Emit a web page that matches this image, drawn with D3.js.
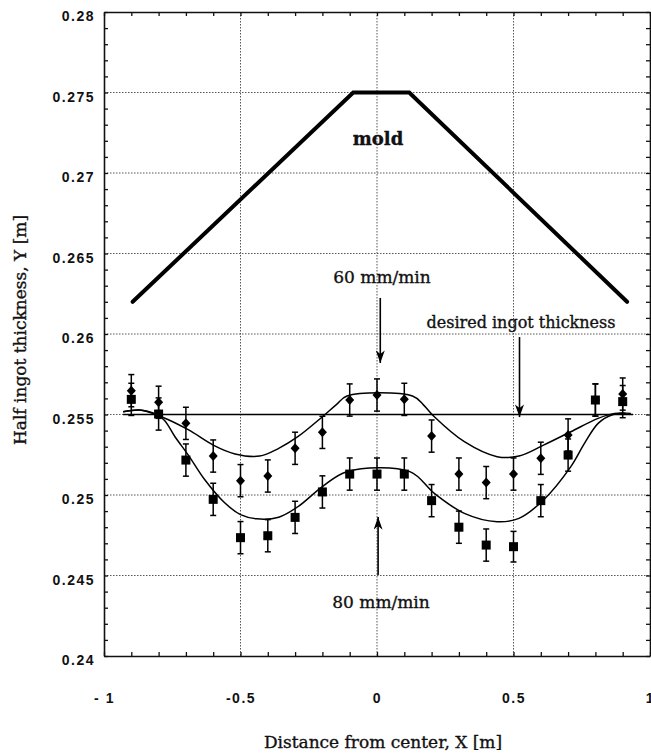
<!DOCTYPE html>
<html lang="en">

<head>
    <meta charset="UTF-8" />
    <title>Half ingot thickness vs distance from center</title>
    <script src="https://d3js.org/d3.v7.min.js"></script>
    <style>
        body {
            margin: 0;
            background: #fff;
        }

        .tick-label {
            font-family: "Liberation Sans", Arial, sans-serif;
            font-size: 14px;
            font-weight: bold;
            letter-spacing: 1.5px;
            fill: #111;
        }

        .serif {
            font-family: "DejaVu Serif", serif;
            fill: #111;
            stroke: #111;
            stroke-width: 0.35px;
        }
    </style>
</head>

<body>
    <script>
        // Data
        var xPos = [-0.9, -0.8, -0.7, -0.6, -0.5, -0.4, -0.3, -0.2, -0.1, 0, 0.1, 0.2, 0.3, 0.4, 0.5, 0.6, 0.7, 0.8, 0.9];
        var meas60 = [0.25648, 0.25576, 0.25445, 0.25242, 0.25089, 0.25118, 0.2529, 0.25389, 0.2559, 0.25621, 0.25594,
            0.25366, 0.2513, 0.25077, 0.2513, 0.25228, 0.25373, 0.2559, 0.25627];
        var err60 = [0.001, 0.001, 0.001, 0.001, 0.001, 0.001, 0.001, 0.001, 0.001, 0.001, 0.001,
            0.001, 0.001, 0.001, 0.001, 0.001, 0.001, 0.001, 0.001];
        var meas80 = [0.25594, 0.25503, 0.25217, 0.24973, 0.24735, 0.24747, 0.24861, 0.25019, 0.2513, 0.2513, 0.2513,
            0.24965, 0.248, 0.24689, 0.24679, 0.24965, 0.25248, 0.2559, 0.2558];
        var err80 = [0.001, 0.001, 0.001, 0.001, 0.001, 0.001, 0.001, 0.001, 0.001, 0.001, 0.001,
            0.001, 0.001, 0.001, 0.00095, 0.001, 0.001, 0.001, 0.001];

        // model curves
        var model60X = [-0.93, -0.87, -0.79, -0.69, -0.6, -0.52, -0.43, -0.36, -0.29, -0.2, -0.15, -0.11, 0.13, 0.17, 0.21,
            0.32, 0.44, 0.52, 0.61, 0.71, 0.81, 0.87, 0.93];
        var model60Y = [0.25517, 0.25528, 0.25486, 0.25404, 0.2531, 0.25255, 0.25242, 0.2529, 0.25362, 0.25486, 0.2556,
            0.25615, 0.25615, 0.2556, 0.25486, 0.25331, 0.25238, 0.25242, 0.2531, 0.25393, 0.25476, 0.25507, 0.25507];
        var model80X = [-0.93, -0.87, -0.82, -0.78, -0.74, -0.69, -0.63, -0.56, -0.5, -0.44, -0.36, -0.29, -0.2, -0.11,
            0.12, 0.21, 0.32, 0.44, 0.52, 0.61, 0.71, 0.76, 0.81, 0.86, 0.91];
        var model80Y = [0.25517, 0.25528, 0.2551, 0.25466, 0.25362, 0.25245, 0.25093, 0.24955, 0.24878, 0.24852, 0.24862,
            0.24927, 0.25052, 0.25145, 0.25145, 0.2501, 0.24886, 0.24834, 0.24855, 0.24969, 0.25176, 0.25321, 0.25445,
            0.25497, 0.25507];

        // mold shape
        var moldX = [-0.895, -0.087, 0.118, 0.916];
        var moldY = [0.262, 0.275, 0.275, 0.262];

        var desiredY = 0.255;
        var desiredX = [-0.93, 0.938];

        var yTicks = [0.28, 0.275, 0.27, 0.265, 0.26, 0.255, 0.25, 0.245, 0.24];
        var yTickLabels = ["0.28", "0.275", "0.27", "0.265", "0.26", "0.255", "0.25", "0.245", "0.24"];
        var xTicks = [-1, -0.5, 0, 0.5, 1];
        var xTickLabels = ["- 1", "-0.5", "0", "0.5", "1"];
        var xGrid = [-0.5, 0, 0.5];
        var yGrid = [0.245, 0.25, 0.255, 0.26, 0.265, 0.27, 0.275];

        // Set up the SVG
        var w = 651;
        var h = 753;
        var plotLeft = 104, plotRight = 650, plotTop = 12, plotBottom = 656;

        var svg = d3.select("body")
            .append("svg")
            .attr("width", w)
            .attr("height", h);

        var xScale = d3.scaleLinear().domain([-1, 1]).range([plotLeft, plotRight]);
        var yScale = d3.scaleLinear().domain([0.24, 0.28]).range([plotBottom, plotTop]);

        // dotted grid
        svg.selectAll(".hgrid")
            .data(yGrid)
            .enter()
            .append("line")
            .attr("x1", plotLeft).attr("x2", plotRight)
            .attr("y1", function (d) { return yScale(d); })
            .attr("y2", function (d) { return yScale(d); })
            .style("stroke", "#444")
            .style("stroke-width", 0.9)
            .style("stroke-dasharray", "1.5,1.5");

        svg.selectAll(".vgrid")
            .data(xGrid)
            .enter()
            .append("line")
            .attr("y1", plotTop).attr("y2", plotBottom)
            .attr("x1", function (d) { return xScale(d); })
            .attr("x2", function (d) { return xScale(d); })
            .style("stroke", "#444")
            .style("stroke-width", 0.9)
            .style("stroke-dasharray", "1.5,1.5");

        // minor ticks on all four sides, pointing inwards
        var yMinor = d3.range(0, 41).map(function (i) { return 0.24 + i * 0.001; });
        var xMinor = d3.range(0, 21).map(function (i) { return -1 + i * 0.1; });

        function tickAxis(axis, tx, ty) {
            var g = svg.append("g")
                .attr("transform", "translate(" + tx + "," + ty + ")")
                .call(axis.tickSizeOuter(0).tickFormat(""));
            g.selectAll("line").style("stroke", "#111").style("stroke-width", 1.3);
            g.select(".domain").style("stroke", "#111").style("stroke-width", 1.6);
            return g;
        }

        tickAxis(d3.axisRight(yScale).tickValues(yMinor).tickSize(4), plotLeft, 0);
        tickAxis(d3.axisLeft(yScale).tickValues(yMinor).tickSize(4), plotRight, 0);
        tickAxis(d3.axisTop(xScale).tickValues(xMinor).tickSize(4), 0, plotBottom);
        tickAxis(d3.axisBottom(xScale).tickValues(xMinor).tickSize(4), 0, plotTop);

        // tick labels
        var yLab = svg.append("g")
            .attr("transform", "translate(" + plotLeft + ",0)")
            .call(d3.axisLeft(yScale).tickValues(yTicks).tickSize(0).tickPadding(9)
                .tickFormat(function (d, i) { return yTickLabels[i]; }));
        yLab.select(".domain").remove();
        yLab.selectAll("text").attr("class", "tick-label").attr("dy", "0.62em");

        var xLab = svg.append("g")
            .attr("transform", "translate(0," + plotBottom + ")")
            .call(d3.axisBottom(xScale).tickValues(xTicks).tickSize(0).tickPadding(37)
                .tickFormat(function (d, i) { return xTickLabels[i]; }));
        xLab.select(".domain").remove();
        xLab.selectAll("text").attr("class", "tick-label");

        // axis titles
        svg.append("text")
            .attr("class", "serif")
            .attr("text-anchor", "middle")
            .attr("x", 383)
            .attr("y", 748)
            .style("font-size", "17px")
            .text("Distance from center, X [m]");

        svg.append("text")
            .attr("class", "serif")
            .attr("text-anchor", "middle")
            .attr("transform", "rotate(-90)")
            .attr("x", -330)
            .attr("y", 26)
            .style("font-size", "17px")
            .text("Half ingot thickness, Y [m]");

        // mold outline
        var moldLine = d3.line()
            .x(function (d) { return xScale(d[0]); })
            .y(function (d) { return yScale(d[1]); });

        svg.append("path")
            .datum(d3.zip(moldX, moldY))
            .attr("d", moldLine)
            .style("fill", "none")
            .style("stroke", "#000")
            .style("stroke-width", 4)
            .style("stroke-linejoin", "miter")
            .style("stroke-linecap", "round");

        // desired ingot thickness
        svg.append("line")
            .attr("x1", xScale(desiredX[0]))
            .attr("x2", xScale(desiredX[1]))
            .attr("y1", yScale(desiredY))
            .attr("y2", yScale(desiredY))
            .style("stroke", "#000")
            .style("stroke-width", 1.4);

        // model curves
        var smooth = d3.line()
            .x(function (d) { return xScale(d[0]); })
            .y(function (d) { return yScale(d[1]); })
            .curve(d3.curveCatmullRom.alpha(0.5));

        [[model60X, model60Y], [model80X, model80Y]].forEach(function (m) {
            svg.append("path")
                .datum(d3.zip(m[0], m[1]))
                .attr("d", smooth)
                .style("fill", "none")
                .style("stroke", "#000")
                .style("stroke-width", 1.5);
        });

        // error bars + markers
        function errorBars(vals, errs) {
            var g = svg.append("g");
            vals.forEach(function (v, i) {
                var cx = xScale(xPos[i]);
                var y1 = yScale(v + errs[i]);
                var y2 = yScale(v - errs[i]);
                g.append("line").attr("x1", cx).attr("x2", cx).attr("y1", y1).attr("y2", y2)
                    .style("stroke", "#000").style("stroke-width", 1.5);
                [y1, y2].forEach(function (yy) {
                    g.append("line").attr("x1", cx - 3).attr("x2", cx + 3).attr("y1", yy).attr("y2", yy)
                        .style("stroke", "#000").style("stroke-width", 1.5);
                });
            });
        }
        errorBars(meas60, err60);
        errorBars(meas80, err80);

        svg.selectAll(".diamond")
            .data(d3.zip(xPos, meas60))
            .enter()
            .append("path")
            .attr("d", "M0,-5L4.5,0L0,5L-4.5,0Z")
            .attr("transform", function (d) { return "translate(" + xScale(d[0]) + "," + yScale(d[1]) + ")"; })
            .style("fill", "#000");

        svg.selectAll(".square")
            .data(d3.zip(xPos, meas80))
            .enter()
            .append("rect")
            .attr("x", function (d) { return xScale(d[0]) - 4.5; })
            .attr("y", function (d) { return yScale(d[1]) - 4.5; })
            .attr("width", 9)
            .attr("height", 9)
            .style("fill", "#000");

        // annotations
        svg.append("defs").append("marker")
            .attr("id", "arrow")
            .attr("viewBox", "0 0 14 10")
            .attr("refX", 14).attr("refY", 5)
            .attr("markerWidth", 13).attr("markerHeight", 9)
            .attr("markerUnits", "userSpaceOnUse")
            .attr("orient", "auto")
            .append("path")
            .attr("d", "M0,0L14,5L0,10L4,5Z")
            .style("fill", "#000");

        function arrow(x, yFrom, yTo) {
            svg.append("line")
                .attr("x1", xScale(x)).attr("x2", xScale(x))
                .attr("y1", yScale(yFrom)).attr("y2", yScale(yTo))
                .style("stroke", "#000")
                .style("stroke-width", 1.6)
                .attr("marker-end", "url(#arrow)");
        }

        arrow(0.012, 0.26224, 0.2582);
        arrow(0.004, 0.24503, 0.24863);
        arrow(0.522, 0.25981, 0.25484);

        svg.append("text").attr("class", "serif").attr("text-anchor", "middle")
            .attr("x", 378).attr("y", 145)
            .style("font-size", "18px").style("font-weight", "bold")
            .text("mold");

        svg.append("text").attr("class", "serif").attr("text-anchor", "middle")
            .attr("x", 382).attr("y", 283)
            .style("font-size", "17px")
            .text("60  mm/min");

        svg.append("text").attr("class", "serif").attr("text-anchor", "middle")
            .attr("x", 381).attr("y", 608)
            .style("font-size", "17px")
            .text("80  mm/min");

        svg.append("text").attr("class", "serif").attr("text-anchor", "middle")
            .attr("x", 521).attr("y", 328)
            .style("font-size", "16px")
            .text("desired ingot thickness");
    </script>
</body>

</html>
